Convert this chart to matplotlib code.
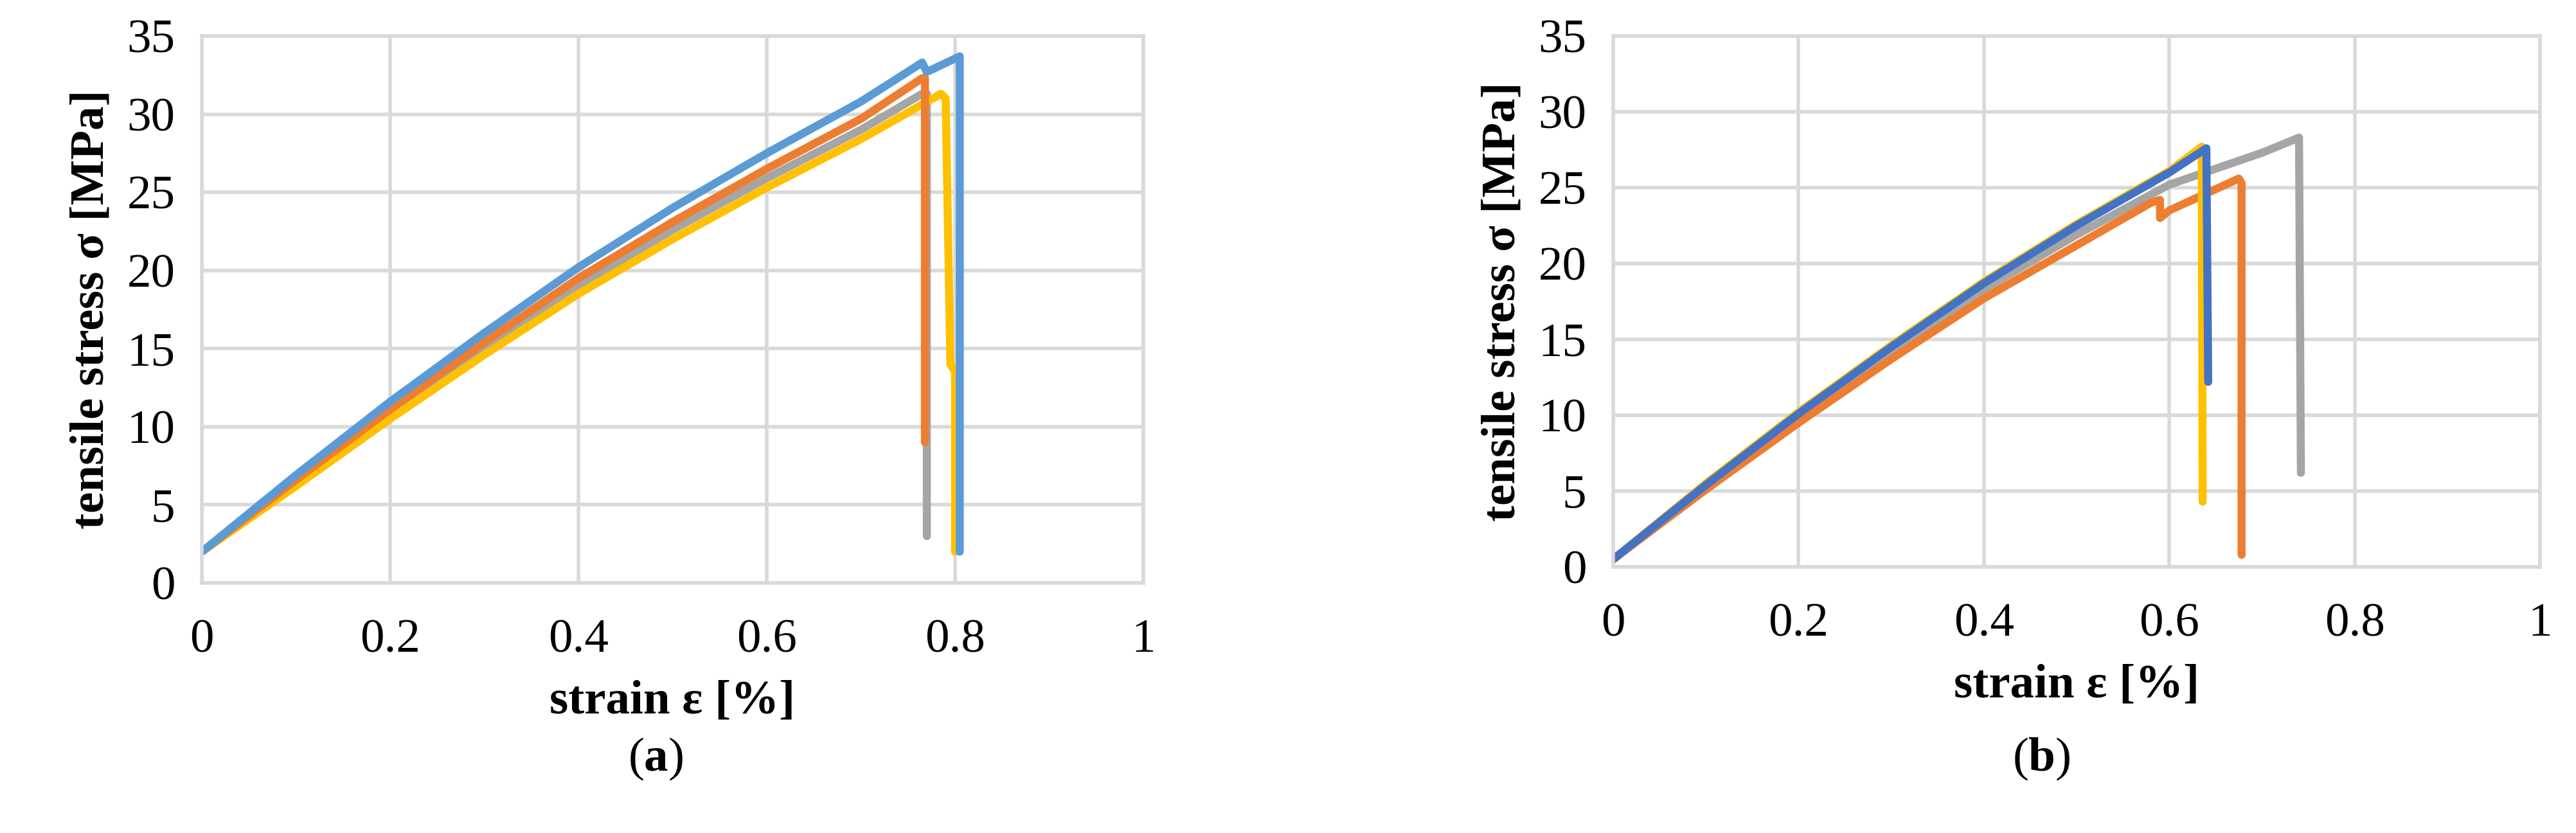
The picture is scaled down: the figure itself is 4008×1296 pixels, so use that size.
import matplotlib
matplotlib.use("Agg")
import matplotlib.pyplot as plt

# panel (a)
a_blue_x = [0, 0.1, 0.2, 0.3, 0.4, 0.5, 0.6, 0.7, 0.765, 0.77, 0.805, 0.805]
a_blue_y = [2, 6.9, 11.6, 16.0, 20.2, 24.0, 27.5, 30.8, 33.3, 32.7, 33.7, 2]
a_orange_x = [0, 0.1, 0.2, 0.3, 0.4, 0.5, 0.6, 0.7, 0.765, 0.768, 0.768]
a_orange_y = [2, 6.6, 11.1, 15.4, 19.5, 23.1, 26.5, 29.7, 32.3, 32.3, 9]
a_gray_x = [0, 0.1, 0.2, 0.3, 0.4, 0.5, 0.6, 0.7, 0.765, 0.77, 0.77]
a_gray_y = [2, 6.4, 10.8, 15.0, 19.0, 22.6, 25.9, 29.0, 31.3, 31.3, 3]
a_yellow_x = [0, 0.1, 0.2, 0.3, 0.4, 0.5, 0.6, 0.7, 0.785, 0.79, 0.795, 0.80, 0.80]
a_yellow_y = [2, 6.2, 10.5, 14.6, 18.5, 22.0, 25.3, 28.4, 31.3, 31.0, 14, 13.5, 2]

# panel (b)
b_yellow_x = [0, 0.1, 0.2, 0.3, 0.4, 0.5, 0.6, 0.635, 0.636]
b_yellow_y = [0.5, 5.5, 10.2, 14.6, 18.8, 22.6, 26.1, 27.7, 4.3]
b_blue_x = [0, 0.1, 0.2, 0.3, 0.4, 0.5, 0.6, 0.64, 0.642]
b_blue_y = [0.5, 5.4, 10.1, 14.5, 18.7, 22.5, 26.0, 27.6, 12.2]
b_gray_x = [0, 0.1, 0.2, 0.3, 0.4, 0.5, 0.6, 0.7, 0.74, 0.742]
b_gray_y = [0.5, 5.3, 9.8, 14.1, 18.3, 21.9, 25.2, 27.3, 28.3, 6.2]
b_orange_x = [0, 0.1, 0.2, 0.3, 0.4, 0.5, 0.58, 0.59, 0.59, 0.6, 0.675, 0.678, 0.678]
b_orange_y = [0.5, 5.1, 9.5, 13.7, 17.7, 21.2, 24.0, 24.2, 23.0, 23.5, 25.6, 25.3, 0.8]

xticks = [0, 0.2, 0.4, 0.6, 0.8, 1]
xticklabels = ["0", "0.2", "0.4", "0.6", "0.8", "1"]
yticks = [0, 5, 10, 15, 20, 25, 30, 35]

BLUE_A = "#5B9BD5"; BLUE_B = "#4472C4"; ORANGE = "#ED7D31"; GRAY = "#A5A5A5"; YELLOW = "#FFC000"

plt.rcParams['font.family'] = ['Liberation Serif', 'DejaVu Serif']
plt.rcParams['mathtext.fontset'] = 'custom'
plt.rcParams['mathtext.bf'] = 'Liberation Serif:bold'
plt.rcParams['mathtext.rm'] = 'Liberation Serif'
fig = plt.figure(figsize=(40.08, 12.96), dpi=100)
W, H = 4008, 1296
axA = fig.add_axes([314/W, 1-907/H, (1779-314)/W, (907-56)/H])
axB = fig.add_axes([2510/W, 1-882/H, (3952-2510)/W, (882-56)/H])

FS = 54
def style(ax):
    ax.set_xlim(0, 1); ax.set_ylim(0, 35)
    ax.set_xticks(xticks); ax.set_xticklabels(xticklabels)
    ax.set_yticks(yticks)
    ax.grid(True, color="#D9D9D9", lw=4)
    ax.set_axisbelow(True)
    for s in ax.spines.values():
        s.set_color("#D9D9D9"); s.set_linewidth(4)
    ax.tick_params(length=0, labelsize=FS)
    ax.tick_params(axis="x", pad=40)
    ax.tick_params(axis="y", pad=30)
    ax.set_xlabel("strain ε [%]", fontsize=FS, fontweight="bold", labelpad=20)
    ax.set_ylabel("tensile stress σ [MPa]", fontsize=FS, fontweight="bold", labelpad=15)

lw = 9
axA.plot(a_gray_x, a_gray_y, color=GRAY, lw=lw, solid_capstyle="round")
axA.plot(a_yellow_x, a_yellow_y, color=YELLOW, lw=lw, solid_capstyle="round")
axA.plot(a_orange_x, a_orange_y, color=ORANGE, lw=lw, solid_capstyle="round")
axA.plot(a_blue_x, a_blue_y, color=BLUE_A, lw=lw, solid_capstyle="round")

axB.plot(b_gray_x, b_gray_y, color=GRAY, lw=lw, solid_capstyle="round")
axB.plot(b_orange_x, b_orange_y, color=ORANGE, lw=lw, solid_capstyle="round")
axB.plot(b_yellow_x, b_yellow_y, color=YELLOW, lw=lw, solid_capstyle="round")
axB.plot(b_blue_x, b_blue_y, color=BLUE_B, lw=lw, solid_capstyle="round")

style(axA); style(axB)
fig.text(0.2545, 1-1181/H, r"($\mathbf{a}$)", fontsize=FS, ha="center", va="center")
fig.text(0.7925, 1-1181/H, r"($\mathbf{b}$)", fontsize=FS, ha="center", va="center")
fig.savefig("out.png", dpi=100)
